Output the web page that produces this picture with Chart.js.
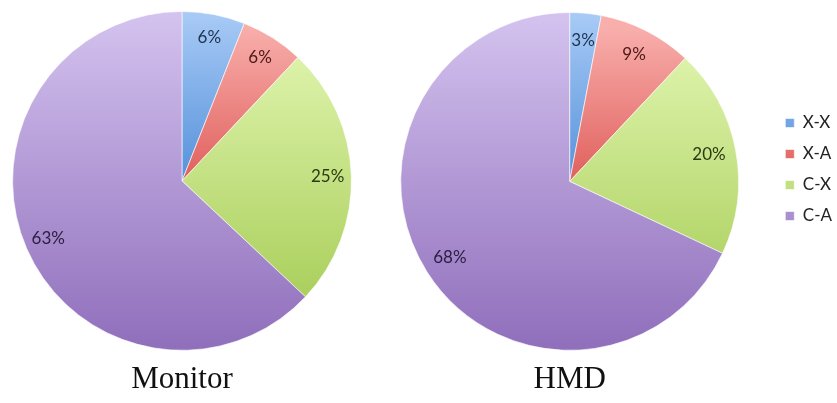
<!DOCTYPE html>
<html>
<head>
<meta charset="utf-8">
<script src="https://cdn.jsdelivr.net/npm/chart.js@4.4.0/dist/chart.umd.min.js"></script>
<style>
  html, body { margin: 0; padding: 0; background: #fff; overflow: hidden; }
  body { width: 837px; height: 403px; position: relative; }
  .box { position: absolute; top: 0; height: 403px; }
</style>
</head>
<body>
<div class="box" style="left:0; width:364px;"><canvas id="monitorChart"></canvas></div>
<div class="box" style="left:360px; width:490px;"><canvas id="hmdChart"></canvas></div>
<script>
// data
const categories = ['X-X', 'X-A', 'C-X', 'C-A'];
const monitorValues = [6, 6, 25, 63];
const hmdValues = [3, 9, 20, 68];
const chartTitles = ['Monitor', 'HMD'];

// light -> dark vertical gradient stops for each slice (relative to pie height)
const sliceStops = [
    [[0, '#a9cbf6'], [0.5, '#5591da']],
    [[0.05, '#f8aeab'], [0.5, '#e0605d']],
    [[0.1, '#dff4ad'], [0.85, '#aacf5c']],
    [[0, '#d4c3ef'], [1, '#8f6ebb']]
];
const flatColors = ['#7fb0e8', '#ec8885', '#c6e386', '#b29ad6'];
const labelColors = ['#1d3250', '#4a1818', '#2b3a12', '#2a1d40'];

function sliceFill(ctx) {
    const area = ctx.chart.chartArea;
    if (!area) return flatColors[ctx.dataIndex];
    const g = ctx.chart.ctx.createLinearGradient(0, area.top, 0, area.bottom);
    sliceStops[ctx.dataIndex].forEach(s => g.addColorStop(s[0], s[1]));
    return g;
}

// percentage labels inside the slices
const pctLabels = {
    id: 'pctLabels',
    afterDatasetsDraw(chart, args, opts) {
        const ctx = chart.ctx;
        const meta = chart.getDatasetMeta(0);
        const values = chart.data.datasets[0].data;
        ctx.save();
        ctx.font = '17px Lato';
        ctx.textAlign = 'center';
        ctx.textBaseline = 'middle';
        meta.data.forEach((arc, i) => {
            const p = arc.getProps(['x', 'y', 'startAngle', 'endAngle', 'outerRadius'], true);
            const mid = (p.startAngle + p.endAngle) / 2;
            const r = p.outerRadius * (opts.radius || 0.85);
            ctx.fillStyle = labelColors[i];
            ctx.fillText(values[i] + '%', p.x + Math.cos(mid) * r, p.y + Math.sin(mid) * r);
        });
        ctx.restore();
    }
};

function makePie(id, values, title, extra) {
    const showLegend = extra.legend;
    return new Chart(document.getElementById(id), {
        type: 'pie',
        data: {
            labels: categories,
            datasets: [{
                data: values,
                backgroundColor: sliceFill,
                borderColor: 'rgba(255,255,255,0.6)',
                borderWidth: 1
            }]
        },
        plugins: [pctLabels],
        options: {
            responsive: true,
            maintainAspectRatio: false,
            animation: false,
            layout: { padding: extra.padding },
            plugins: {
                tooltip: { enabled: false },
                pctLabels: { radius: extra.labelRadius },
                title: {
                    display: true,
                    text: title,
                    position: 'bottom',
                    fullSize: false,
                    color: '#111',
                    font: { family: 'Liberation Serif', size: 31, weight: 'normal', lineHeight: 1.2 },
                    padding: { top: 10, bottom: 5 }
                },
                legend: {
                    display: showLegend,
                    position: 'right',
                    align: 'start',
                    title: { display: true, text: '', font: { size: 10, lineHeight: 1.25 }, padding: { top: 76, bottom: 0 } },
                    labels: {
                        boxWidth: 9,
                        boxHeight: 9,
                        padding: 14,
                        color: '#222',
                        font: { family: 'Lato', size: 17 }
                    }
                }
            }
        }
    });
}

makePie('monitorChart', monitorValues, chartTitles[0], {
    legend: false,
    labelRadius: 0.86,
    padding: { top: 11, left: 12, right: 12, bottom: 0 }
});
makePie('hmdChart', hmdValues, chartTitles[1], {
    legend: true,
    labelRadius: 0.84,
    padding: { top: 12, left: 8, right: 8, bottom: 0 }
});
</script>
</body>
</html>
